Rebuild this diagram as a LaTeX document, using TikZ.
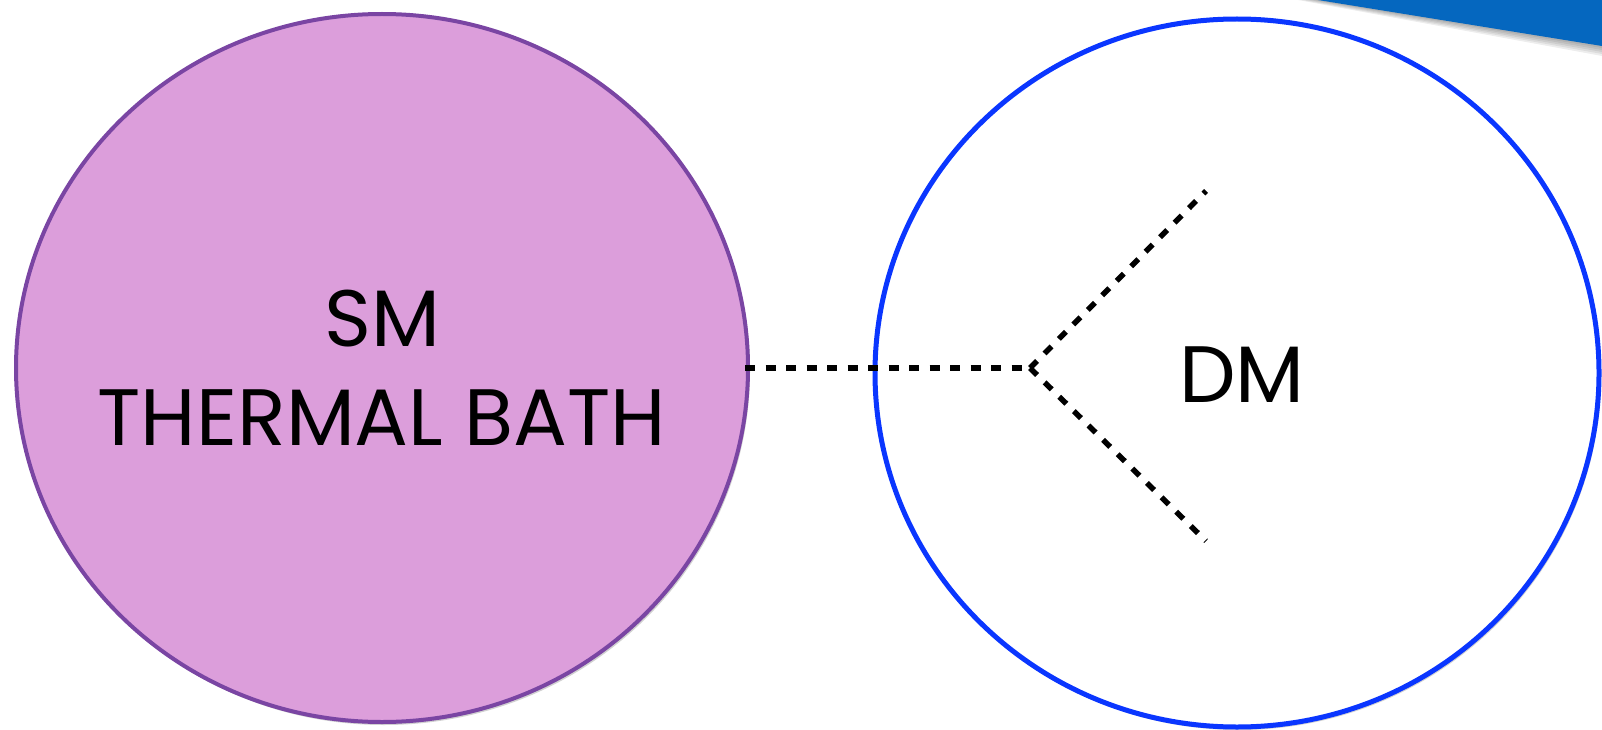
\documentclass[tikz,border=0pt]{standalone}
\usepackage{fontspec}
\setmainfont{Poppins}
\usetikzlibrary{shapes.geometric,shadows}
\definecolor{plumfill}{HTML}{DC9EDB}
\definecolor{plumedge}{HTML}{7A45A3}
\definecolor{dmblue}{HTML}{0A36FF}
\definecolor{cornerblue}{HTML}{0567BF}
\begin{document}
\begin{tikzpicture}[x=1pt,y=-1pt,
  bubble/.style={ellipse, inner sep=0pt,
    drop shadow={shadow xshift=2pt, shadow yshift=-3pt, opacity=.18, fill=black}},
  bubbletext/.style={align=center, inner sep=0pt, font=\fontsize{80}{99}\selectfont},
  fermion/.style={draw=black, line width=5.5pt, dash pattern=on 10pt off 10.5pt},
  cornershade/.style={fill=black, opacity=.07}]
\useasboundingbox (0,0) rectangle (1602,730);
\foreach \s in {2,4,6,8,10}
  \fill[cornershade] (1318,0) -- (1602,0) -- (1602,46+\s) -- (1318-2*\s,0) -- cycle;
\fill[cornerblue] (1318,0) -- (1602,0) -- (1602,46) -- cycle;
\node[bubble, fill=plumfill, draw=plumedge, line width=4pt,
  minimum width=732pt, minimum height=708pt] (SM) at (382,368) {};
\node[bubbletext] (SMlabel) at (SM.center) {SM\\THERMAL BATH};
\node[bubble, fill=white, draw=dmblue, line width=5pt,
  minimum width=724pt, minimum height=708pt] (DM) at (1237,373) {};
\node[bubbletext] (DMlabel) at (1242,375) {DM};
\coordinate (v) at (1030,368);
\coordinate (up) at (1206,191);
\coordinate (dn) at (1206,541);
\draw[fermion] ([xshift=-5pt]SM.east) -- (v);
\draw[fermion] (v) -- (up);
\draw[fermion] (v) -- (dn);
\end{tikzpicture}
\end{document}
